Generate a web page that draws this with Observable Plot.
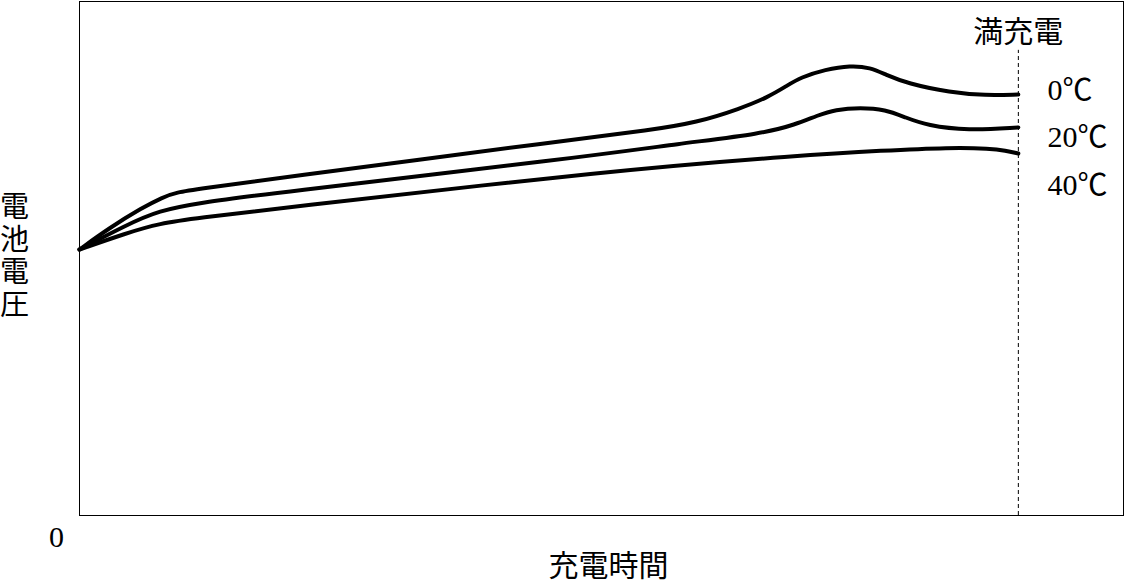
<!DOCTYPE html>
<html><head><meta charset="utf-8">
<script src="https://cdn.jsdelivr.net/npm/d3@7"></script>
<script src="https://cdn.jsdelivr.net/npm/@observablehq/plot@0.6"></script>
<style>
html,body{margin:0;padding:0;background:#fff;}
svg{display:block;}
</style>
</head><body>
<div id="chart"></div>
<script>
// Charge time (full charge = 100) and battery voltage (arbitrary units)
const series = ["0℃", "20℃", "40℃"];
const time0 = [0, 3.09, 6.71, 8.84, 10.22, 13.10, 19.28, 53.35, 60.49, 65.81, 70.39, 73.27, 75.40, 76.78, 79.45, 82.11, 84.24, 85.84, 88.18, 92.76, 96.49, 100];
const volt0 = [51.75, 55.84, 59.92, 61.87, 62.84, 63.62, 65.18, 73.35, 74.90, 76.46, 79.18, 81.32, 83.66, 85.21, 86.77, 87.55, 87.16, 85.80, 84.05, 82.30, 81.71, 81.91];
const time20 = [0, 4.90, 8.41, 13.10, 19.28, 53.35, 64.00, 72.84, 76.25, 78.59, 80.51, 83.17, 85.84, 87.97, 90.31, 94.57, 100];
const volt20 = [51.75, 56.42, 59.34, 60.89, 62.45, 69.65, 72.37, 74.32, 76.07, 77.82, 78.99, 79.38, 78.99, 77.43, 75.88, 74.90, 75.49];
const time40 = [0, 4.90, 8.41, 13.10, 19.28, 57.61, 76.78, 85.62, 92.76, 97.02, 98.62, 100];
const volt40 = [51.75, 54.86, 56.81, 57.98, 59.34, 67.32, 70.04, 71.01, 71.60, 71.40, 71.01, 70.43];
const labelTime = [103.1, 103.1, 103.1];
const labelVolt = [82.7, 73.5, 64.2];
const fullChargeTime = 100;
const fullChargeTop = 90.5;
const fullChargeLabel = "満充電";
const xTitle = "充電時間";
const yTitle = "電池電圧";
const originLabel = "0";

const rows = [];
[[time0, volt0, series[0]], [time20, volt20, series[1]], [time40, volt40, series[2]]].forEach(([t, v, s]) => {
  t.forEach((ti, i) => rows.push({t: ti, v: v[i], s}));
});
const labels = series.map((s, i) => ({s, t: labelTime[i], v: labelVolt[i]}));

const font = "'Liberation Serif', 'Noto Sans CJK JP', serif";

const chart = Plot.plot({
  width: 1125,
  height: 585,
  marginLeft: 79,
  marginRight: 2,
  marginTop: 1,
  marginBottom: 70,
  style: {fontFamily: font, background: "#fff", color: "#000"},
  x: {domain: [0, 111.2], axis: null},
  y: {domain: [0, 100], axis: null},
  marks: [
    Plot.frame({stroke: "#000", strokeWidth: 1}),
    Plot.ruleX([fullChargeTime], {y1: 0, y2: fullChargeTop, stroke: "#000", strokeWidth: 1, strokeDasharray: "4,3"}),
    Plot.line(rows, {x: "t", y: "v", z: "s", stroke: "#000", strokeWidth: 4, curve: "basis", strokeLinejoin: "round"}),
    Plot.text([fullChargeLabel], {x: fullChargeTime, y: 94, text: d => d, fontSize: 30, fill: "#000", textAnchor: "middle"}),
    Plot.text(labels, {x: "t", y: "v", text: "s", fontSize: 30, fill: "#000", textAnchor: "start"}),
    Plot.text([originLabel], {frameAnchor: "bottom-left", text: d => d, dx: -23, dy: 31, fontSize: 30, fill: "#000", textAnchor: "middle"}),
    Plot.text([xTitle], {frameAnchor: "bottom", text: d => d, dx: 7, dy: 60, fontSize: 30, fill: "#000", textAnchor: "middle"}),
    Plot.text([yTitle.split("").join("\n")], {frameAnchor: "left", text: d => d, dx: -65, dy: -3, fontSize: 29, lineHeight: 1.12, fill: "#000", textAnchor: "middle"})
  ]
});
document.getElementById("chart").appendChild(chart);
</script>
</body></html>
